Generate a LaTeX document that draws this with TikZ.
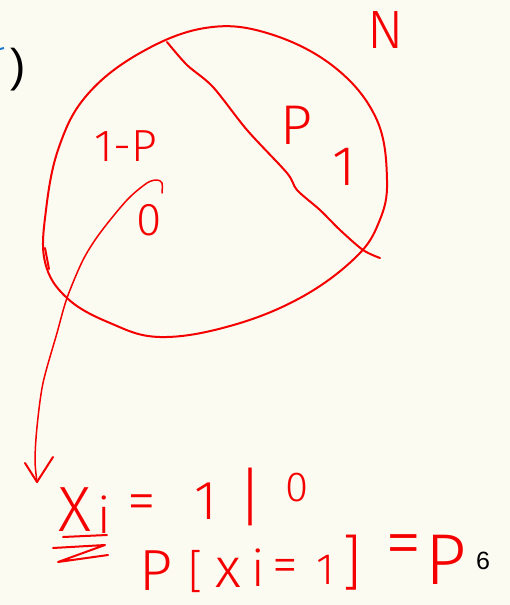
\documentclass[tikz,border=0pt]{standalone}
\usepackage{fontspec}
\newfontfamily\hwfont{Fira Sans Light}
\newfontfamily\prfont{Liberation Sans}
\definecolor{bg}{RGB}{251,251,241}
\definecolor{ink}{RGB}{245,0,0}
\definecolor{inkblue}{RGB}{30,120,210}
\begin{document}
\begin{tikzpicture}[x=1pt,y=-1pt,
  stroke/.style={draw=ink,line width=2pt,line cap=round,line join=round},
  hw/.style={text=ink,inner sep=0pt,font=\hwfont\fontsize{#1}{#1}\selectfont},
  pr/.style={text=black,inner sep=0pt,font=\prfont\fontsize{#1}{#1}\selectfont}]
\useasboundingbox (0,0) rectangle (510,605);
\fill[bg] (0,0) rectangle (510,605);

% cropped printed text at the top left
\draw[inkblue,line width=2pt] (0,49) -- (4,48);
\node[pr=46] (paren) at (18,70) {)};

% the population loop
\draw[stroke] plot[smooth cycle,tension=0.65] coordinates {(387,180)(376,118)(333,66)(267,33)(205,28)(140,53)(87,95)(59,147)(46,210)(45,262)(67,298)(110,323)(160,337)(230,326)(300,298)(355,258)(379,222)};
\draw[stroke] (45,248) -- (49,269);
% dividing line
\draw[stroke] plot[smooth,tension=0.5] coordinates {(167,42)(187,65)(213,87)(247,130)(287,173)(297,190)(320,210)(340,230)(363,250)(380,258)};

% labels in the loop
\node[hw=54] (N) at (386,30) {N};
\node[hw=45] (omp) at (126,146) {1-P};
\node[hw=56] (p) at (296,125) {P};
\node[hw=56] (one) at (344,167) {1};
\node[hw=46] (zero) at (149,220) {0};

% arrow from the 0 region down to X_i
\coordinate (astart) at (162,193);
\coordinate (aend) at (37,482);
\draw[stroke,line width=1.5pt] plot[smooth] coordinates {(astart)(162,183)(157,180)(147,183)(127,200)(100,233)(83,260)(67,298)(57,333)(43,383)(37,427)(35,460)(aend)};
\draw[stroke] (25,463) -- (aend) -- (53,457);

% X_i = 1 | 0
\node[hw=64] (X) at (75,510) {X};
\node[hw=50] (Xi) at (104,515) {i};
\node[hw=58] (eqa) at (142,508) {=};
\node[hw=55] (onea) at (206,501) {1};
\node[hw=64] (bar) at (251,497) {|};
\node[hw=42] (zeroa) at (297,488) {0};
\draw[stroke] (63,537) -- (107,535);
\draw[stroke] (53,548) -- (105,545) -- (58,562) -- (108,555);

% P[xi=1]=P 6
\node[hw=58] (Pa) at (156,571) {P};
\node[hw=46] (lb) at (196,572) {[};
\node[hw=56] (x) at (228,573) {x};
\node[hw=50] (xi) at (258,568) {i};
\node[hw=52] (eqb) at (285,571) {=};
\node[hw=44] (oneb) at (326,570) {1};
\node[hw=60] (rb) at (352,563) {]};
\node[hw=74] (eqc) at (404,551) {=};
\node[hw=72] (Pb) at (446,560) {P};
\node[pr=25] (six) at (483,561) {6};
\end{tikzpicture}
\end{document}
